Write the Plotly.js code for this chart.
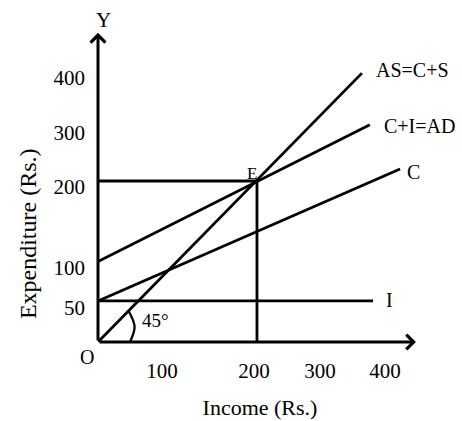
<!DOCTYPE html>
<html><head><meta charset="utf-8">
<script src="https://cdn.plot.ly/plotly-3.0.1.min.js"></script>
<style>html,body{margin:0;padding:0;background:#fff;}#chart{width:462px;height:421px;}</style>
</head><body><div id="chart"></div>
<script>
// Diagram units: equilibrium point E = (200, 200)
const asX = [0, 332],   asY = [0, 334];     // AS = C+S (45° line)
const adX = [0, 342],   adY = [100, 270];   // C+I = AD
const cX  = [0, 380],   cY  = [51, 215];    // C
const iX  = [0, 346],   iY  = [51, 51];     // I
const eHX = [0, 200],   eHY = [200, 200];   // E horizontal guide
const eVX = [200, 200], eVY = [0, 200];     // E vertical guide
const arcX = [40.3, 46, 38.5], arcY = [0, 19, 38.5]; // 45° angle arc
const xTickPos  = [80.5, 196.2, 279.3, 361.0];
const xTickText = ['100', '200', '300', '400'];
const yTickPos  = [42.2, 91.9, 192.5, 260.2, 328.6];
const yTickText = ['50', '100', '200', '300', '400'];
const xAxisEnd = 400, yAxisEnd = 384;
const lineNames = ['AS=C+S', 'C+I=AD', 'C', 'I'];

const FONT = '"Liberation Serif", "Times New Roman", serif';
const BLACK = '#000';

function seg(x, y, w, shape) {
  return {x: x, y: y, type: 'scatter', mode: 'lines', hoverinfo: 'skip', showlegend: false,
          line: {color: BLACK, width: w, shape: shape || 'linear'}};
}
const data = [
  seg(asX, asY, 2.8), seg(adX, adY, 2.8), seg(cX, cY, 2.8), seg(iX, iY, 2.8),
  seg(eHX, eHY, 2.8), seg(eVX, eVY, 2.8), seg(arcX, arcY, 2.3, 'spline')
];

function lbl(text, x, y, size, xanchor) {
  return {text: text, x: x, y: y, xref: 'x', yref: 'y', showarrow: false,
          xanchor: xanchor || 'center', yanchor: 'middle', font: {family: FONT, size: size, color: BLACK}};
}
function arrow(x, y) {
  return {text: '', x: x, y: y, ax: 0, ay: 0, xref: 'x', yref: 'y', axref: 'x', ayref: 'y',
          showarrow: true, arrowhead: 4, arrowwidth: 3, arrowsize: 0.95, arrowcolor: BLACK};
}

const layout = {
  width: 462, height: 421,
  margin: {l: 98, r: 40, t: 10, b: 79, pad: 0},
  paper_bgcolor: '#fff', plot_bgcolor: '#fff',
  showlegend: false,
  font: {family: FONT, color: BLACK},
  xaxis: {range: [0, 407.6], autorange: false, fixedrange: true, showgrid: false, zeroline: false, showline: false,
          ticks: '', tickmode: 'array', tickvals: xTickPos, ticktext: xTickText, ticklabelstandoff: 14,
          tickfont: {family: FONT, size: 21, color: BLACK},
          title: {text: 'Income (Rs.)', font: {family: FONT, size: 22, color: BLACK}, standoff: 17}},
  yaxis: {range: [0, 412.4], autorange: false, fixedrange: true, showgrid: false, zeroline: false, showline: false,
          ticks: '', tickmode: 'array', tickvals: yTickPos, ticktext: yTickText, ticklabelstandoff: 12,
          tickfont: {family: FONT, size: 21, color: BLACK}},
  annotations: [
    arrow(xAxisEnd, 0), arrow(0, yAxisEnd),
    lbl('Y', 6.3, 400, 21), lbl('X', 427.7, -2.5, 21),
    {text: 'O', xref: 'paper', yref: 'paper', x: -0.034, y: -0.045, showarrow: false,
     xanchor: 'center', yanchor: 'middle', font: {family: FONT, size: 20, color: BLACK}},
    lbl('E', 194.3, 209.9, 17), lbl('45°', 72.3, 26.1, 19),
    lbl(lineNames[0], 395.6, 337.9, 20), lbl(lineNames[1], 405, 268.3, 20),
    lbl(lineNames[2], 396.9, 211.2, 20), lbl(lineNames[3], 367.3, 52.2, 20),
    {text: 'Expenditure (Rs.)', xref: 'paper', yref: 'paper', x: -0.216, y: 0.325, textangle: -90,
     showarrow: false, xanchor: 'center', yanchor: 'middle', font: {family: FONT, size: 24, color: BLACK}}
  ]
};
Plotly.newPlot('chart', data, layout, {displayModeBar: false, staticPlot: true});
</script></body></html>
